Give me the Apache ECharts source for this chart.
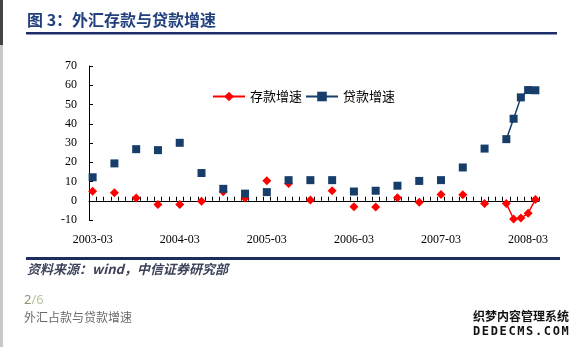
<!DOCTYPE html>
<html><head><meta charset="utf-8">
<script src="https://cdn.jsdelivr.net/npm/echarts@6/dist/echarts.min.js"></script>
<style>html,body{margin:0;padding:0;background:#fff}#c{width:582px;height:347px}</style>
</head><body><div id="c"></div>
<script>
const months = [
 '2003-03','2003-04','2003-05','2003-06','2003-07','2003-08','2003-09','2003-10','2003-11','2003-12',
 '2004-01','2004-02','2004-03','2004-04','2004-05','2004-06','2004-07','2004-08','2004-09','2004-10','2004-11','2004-12',
 '2005-01','2005-02','2005-03','2005-04','2005-05','2005-06','2005-07','2005-08','2005-09','2005-10','2005-11','2005-12',
 '2006-01','2006-02','2006-03','2006-04','2006-05','2006-06','2006-07','2006-08','2006-09','2006-10','2006-11','2006-12',
 '2007-01','2007-02','2007-03','2007-04','2007-05','2007-06','2007-07','2007-08','2007-09','2007-10','2007-11','2007-12',
 '2008-01','2008-02','2008-03','2008-04'
];
const depositGrowth = [5.0,null,null,4.1,null,null,1.4,null,null,-1.9,null,null,-2.0,null,null,-0.3,null,null,4.7,null,null,1.4,null,null,10.4,null,null,9.0,null,null,0.4,null,null,5.2,null,null,-3.1,null,null,-3.2,null,null,1.6,null,null,-0.8,null,null,3.3,null,null,3.1,null,null,-1.4,null,null,-1.4,-9.5,-9.0,-6.5,0.7];
const loanGrowth = [12.2,null,null,19.4,null,null,26.8,null,null,26.3,null,null,30.1,null,null,14.4,null,null,6.2,null,null,3.7,null,null,4.5,null,null,10.7,null,null,10.7,null,null,10.7,null,null,4.8,null,null,5.2,null,null,7.8,null,null,10.3,null,null,10.7,null,null,17.3,null,null,27.1,null,null,32.0,42.6,53.7,57.5,57.4];
const seriesNames = ['存款增速','贷款增速'];
const yMin = -10, yMax = 70, yStep = 10;
const titleText = '图 3：外汇存款与贷款增速';
const sourceText = '资料来源：wind，中信证券研究部';
const pageText = '外汇占款与贷款增速';
const wmLine1 = '织梦内容管理系统';
const wmLine2 = 'DEDECMS.COM';

const serif = '"Liberation Serif","Times New Roman",serif';
const cjk = '"Noto Sans CJK SC",sans-serif';
const chart = echarts.init(document.getElementById('c'));

const graphics = [
  {type:'rect', shape:{x:0,y:0,width:3,height:45}, style:{fill:'#444'}},
  {type:'rect', shape:{x:0,y:45,width:3,height:302}, style:{fill:'#c8c8c8'}},
  {type:'text', left:27, top:12, style:{text:titleText, font:'bold 16px "Noto Sans CJK SC"', fill:'#22407e'}},
  {type:'rect', shape:{x:26,y:32,width:531,height:2.5}, style:{fill:'#1c2e6a'}},
  {type:'rect', shape:{x:26,y:257,width:534,height:3}, style:{fill:'#1b2d5c'}},
  {type:'text', left:27, top:263, style:{text:sourceText, font:'italic bold 13px "Noto Sans CJK SC"', fill:'#3d4258'}},
  {type:'text', left:24, top:294, style:{text:'{a|2}{b|/6}', font:'13px "Noto Sans", sans-serif', rich:{a:{fill:'#8a9870', font:'13px "Noto Sans"'}, b:{fill:'#b3c79e', font:'13px "Noto Sans"'}}}},
  {type:'text', left:24, top:311, style:{text:pageText, font:'12px "Noto Sans CJK SC"', fill:'#6a6a6a'}},
  {type:'text', left:472, top:309, style:{text:wmLine1, font:'bold 12px "Noto Sans CJK SC"', fill:'#111', stroke:'#fff', lineWidth:2}}
];
wmLine2.split('').forEach((ch, i) => {
  graphics.push({type:'text', x:473 + i*8.85, y:326, style:{text:ch, font:'bold 12px "DejaVu Sans Mono"', fill:'#111', stroke:'#fff', lineWidth:2}});
});

chart.setOption({
  animation:false,
  backgroundColor:'#fff',
  grid:{left:89, right:43, top:66, bottom:127},
  legend:{left:212, top:90, padding:0, itemWidth:32, itemHeight:12, itemGap:3, data:seriesNames,
    textStyle:{fontFamily:cjk, fontSize:13, color:'#000'}},
  xAxis:[
    {type:'category', data:months, boundaryGap:true,
     axisLine:{onZero:true, lineStyle:{color:'#000', width:1}},
     axisTick:{show:true, interval:0, inside:true, length:4, lineStyle:{color:'#000'}},
     axisLabel:{show:false}, splitLine:{show:false}},
    {type:'category', data:months, boundaryGap:true, position:'bottom',
     axisLine:{show:false, onZero:false}, axisTick:{show:false}, splitLine:{show:false},
     axisLabel:{interval:(i)=> i % 12 === 0, margin:14, fontFamily:serif, fontSize:12, color:'#000'}}
  ],
  yAxis:{type:'value', min:yMin, max:yMax, interval:yStep,
    axisLine:{show:true, lineStyle:{color:'#000'}},
    axisTick:{show:true, inside:true, length:4, lineStyle:{color:'#000'}},
    splitLine:{show:false},
    axisLabel:{margin:12, fontFamily:serif, fontSize:12, color:'#000'}},
  series:[
    {name:seriesNames[0], type:'line', xAxisIndex:0, data:depositGrowth, symbol:'diamond', symbolSize:9,
     showAllSymbol:true, connectNulls:false, itemStyle:{color:'#ff0000'}, lineStyle:{color:'#ff0000', width:1.5}},
    {name:seriesNames[1], type:'line', xAxisIndex:0, data:loanGrowth, symbol:'rect', symbolSize:8,
     showAllSymbol:true, connectNulls:false, itemStyle:{color:'#173e6b'}, lineStyle:{color:'#173e6b', width:1.5}}
  ],
  graphic:graphics
});
</script></body></html>
